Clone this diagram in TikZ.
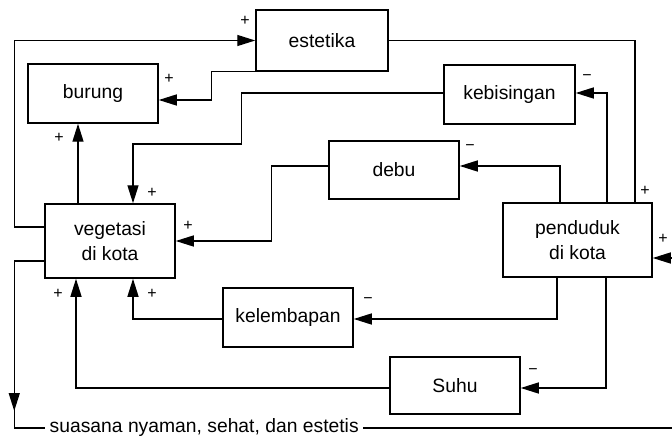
\documentclass[tikz,border=0pt]{standalone}
\usepackage{fontspec}
\setmainfont{Liberation Sans}
\usetikzlibrary{arrows.meta}
\begin{document}
\begin{tikzpicture}[x=1pt,y=-1pt,
  every path/.style={line width=1.4pt},
  box/.style={draw, line width=1.5pt, align=center, inner sep=0pt,
    font=\fontsize{19.3}{25}\selectfont},
  arr/.style={-{Triangle[length=18pt,width=11pt]}},
  sign/.style={font=\fontsize{16}{16}\selectfont, inner sep=0pt}]
  \useasboundingbox (0,0) rectangle (672,441);

  % boxes
  \node[box, minimum width=132pt, minimum height=61pt] (est)  at (322,40.5)  {estetika};
  \node[box, minimum width=130pt, minimum height=59pt] (bur)  at (93,93.5)   {burung};
  \node[box, minimum width=131pt, minimum height=59pt] (keb)  at (509.5,94.5) {kebisingan};
  \node[box, minimum width=130pt, minimum height=58pt] (debu) at (394,170)   {debu};
  \node[box, minimum width=130pt, minimum height=74pt] (veg)  at (110,241)   {vegetasi\\di kota};
  \node[box, minimum width=149pt, minimum height=74pt] (pen)  at (577.5,240) {penduduk\\di kota};
  \node[box, minimum width=130pt, minimum height=59pt] (kel)  at (288,317.5) {kelembapan};
  \node[box, minimum width=130pt, minimum height=57pt] (suhu) at (455,385.5) {Suhu};

  % outcome line at the bottom
  \node[anchor=west, inner xsep=4pt, inner ysep=0pt,
        font=\fontsize{19.3}{22}\selectfont] (goal) at (45,428)
        {suasana nyaman, sehat, dan estetis};
  \coordinate (rout) at (672,428);
  \coordinate (rin)  at (672,258);

  % links from vegetation
  \draw[arr] ([yshift=14pt]veg.west) -- ++(-30,0) |- (est.west);
  \draw[arr] ([yshift=-20pt]veg.west) -- ++(-30,0) -- ++(0,150);
  \draw ([xshift=-30pt,yshift=-20pt]veg.west) |- (goal.west);
  \draw (goal.east) -- (rout);
  \draw[arr] ([xshift=-32pt]veg.north) -- ([xshift=-15pt]bur.south);

  % links towards vegetation and birds
  \draw[arr] (est.south west) -- ++(-44,0) |- ([yshift=-6.5pt]bur.east);
  \draw[arr] ([yshift=1.5pt]keb.west) -- ++(-202,0) -- ++(0,51) -| ([xshift=23pt]veg.north);
  \draw[arr] ([yshift=4pt]debu.west) -- ++(-57,0) |- (veg.east);
  \draw[arr] ([yshift=-1.5pt]kel.west) -| ([xshift=23pt]veg.south);
  \draw[arr] ([yshift=-2.5pt]suhu.west) -| ([xshift=-34pt]veg.south);

  % links from the city population
  \draw[arr] ([xshift=29.5pt]pen.north) |- ([yshift=1.5pt]keb.east);
  \draw[arr] ([xshift=-17.5pt]pen.north) |- ([yshift=4pt]debu.east);
  \draw (est.east) -| ([xshift=57.5pt]pen.north);
  \draw[arr] ([xshift=-20.5pt]pen.south) |- ([yshift=-1.5pt]kel.east);
  \draw[arr] ([xshift=28.5pt]pen.south) |- ([yshift=-2.5pt]suhu.east);
  \draw[arr] (rin) -- ([yshift=-18pt]pen.east);

  % signs
  \node[sign] at (245,21)  {+};
  \node[sign] at (169,79)  {+};
  \node[sign] at (59,138)  {+};
  \node[sign] at (152,193) {+};
  \node[sign] at (188,226) {+};
  \node[sign] at (58,294)  {+};
  \node[sign] at (152,294) {+};
  \node[sign] at (645,191) {+};
  \node[sign] at (663,239) {+};
  \node[sign] at (587,78)  {−};
  \node[sign] at (470,148) {−};
  \node[sign] at (368,301) {−};
  \node[sign] at (533,372) {−};
\end{tikzpicture}
\end{document}
